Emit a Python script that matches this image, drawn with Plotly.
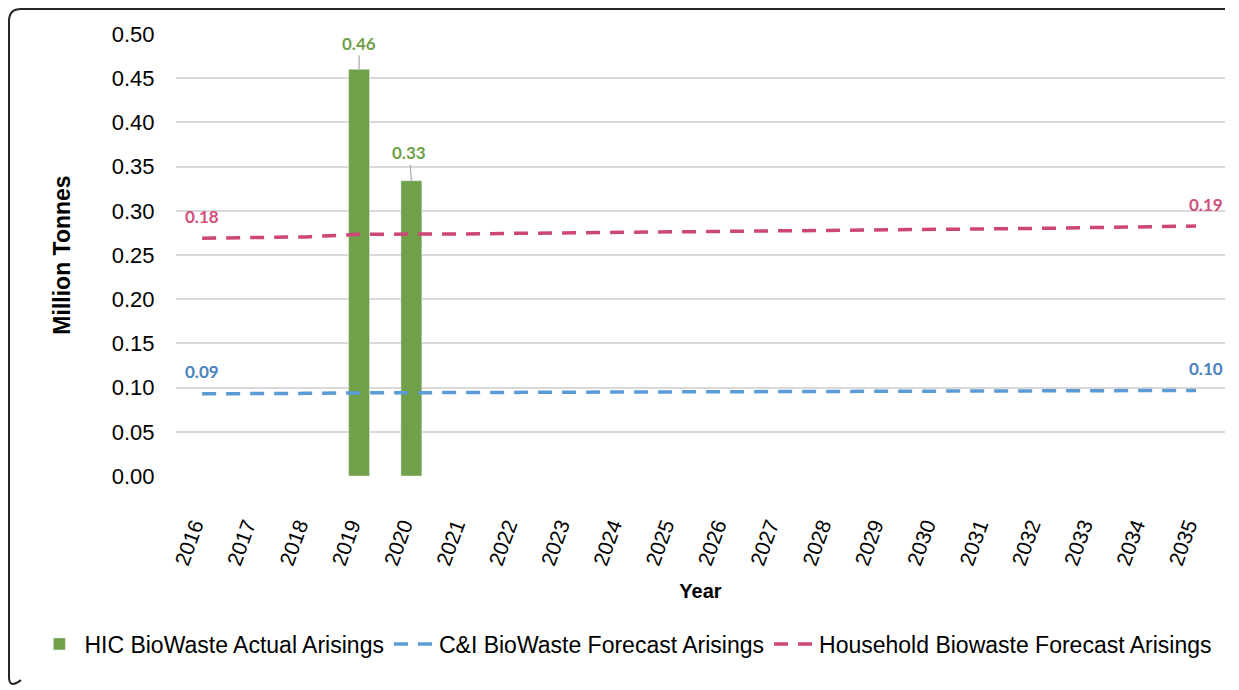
import plotly.graph_objects as go

years = [str(y) for y in range(2016, 2036)]

# HIC actual arisings (only 2019 and 2020 reported)
hic_actual = [None, None, None, 0.46, 0.334] + [None] * 15

# C&I biowaste forecast (million tonnes)
ci_forecast = [0.093, 0.093, 0.0935, 0.094, 0.094, 0.0943, 0.0945, 0.0948, 0.095, 0.0952,
               0.0955, 0.0957, 0.096, 0.0961, 0.0962, 0.0963, 0.0964, 0.0965, 0.0966, 0.0968]

# Household biowaste forecast (million tonnes), plotted stacked on top of C&I
household_forecast = [0.176, 0.1765, 0.177, 0.1795, 0.1795, 0.1795, 0.180, 0.1802, 0.1805, 0.181,
                      0.1812, 0.1815, 0.1818, 0.182, 0.1826, 0.183, 0.1837, 0.1845, 0.1852, 0.186]

household_stacked = [c + h for c, h in zip(ci_forecast, household_forecast)]

W, H = 1239, 690
OFF = 8  # page body margin
PW, PH = 1049, 442
L, T = 176 - OFF, 34 - OFF
R, B = W - L - PW, H - T - PH

FONT = "Liberation Sans"
GREEN = "#70A04A"
BLUE = "#5B9BD5"
PINK = "#CC4778"


def px(x, y):
    # screen pixel position -> paper coordinates
    return (x - OFF - L) / PW, (T + PH - (y - OFF)) / PH


fig = go.Figure()

fig.add_trace(go.Bar(
    x=years,
    y=hic_actual,
    name="HIC BioWaste Actual Arisings",
    marker=dict(color=GREEN),
    width=0.4,
))

fig.add_trace(go.Scatter(
    x=years,
    y=ci_forecast,
    name="C&I BioWaste Forecast Arisings",
    mode="lines",
    line=dict(color=BLUE, width=3.5, dash="14px,10px"),
))

fig.add_trace(go.Scatter(
    x=years,
    y=household_stacked,
    name="Household Biowaste Forecast Arisings",
    mode="lines",
    line=dict(color=PINK, width=3.5, dash="14px,10px"),
))

# annotations on a category axis are placed by category index
label_font = dict(family="Lato", size=17, color=GREEN)
annotations = []
for i, ax, ay in [(3, 0, -26), (4, -2, -28)]:
    annotations.append(dict(x=i, y=hic_actual[i], text="<b>%.2f</b>" % hic_actual[i], showarrow=True,
                            arrowhead=0, arrowwidth=1.2, arrowcolor="#A6A6A6", ax=ax, ay=ay,
                            font=label_font, xref="x", yref="y"))
last = len(years) - 1
for i, dx in [(0, 0), (last, 10)]:
    annotations.append(dict(x=i, y=ci_forecast[i], text="<b>%.2f</b>" % ci_forecast[i],
                            showarrow=False, xshift=dx, yshift=22,
                            font=dict(family="Lato", size=17, color="#4A84BE")))
    annotations.append(dict(x=i, y=household_stacked[i], text="<b>%.2f</b>" % household_forecast[i],
                            showarrow=False, xshift=dx, yshift=22,
                            font=dict(family="Lato", size=17, color="#D0507C")))

# rounded border around the chart area
x0, y0 = px(9, 9)
x1, _ = px(1225, 9)
_, yb = px(9, 689)
cx, cy = px(21, 21)
_, cyb = px(9, 677)
ex, _ = px(21, 689)
border = ("M %f,%f L %f,%f Q %f,%f %f,%f L %f,%f Q %f,%f %f,%f"
          % (x1, y0, cx, y0, x0, y0, x0, cy, x0, cyb, x0, yb, ex, yb + 0.02))

fig.update_layout(
    width=W,
    height=H,
    margin=dict(l=L, r=R, t=T, b=B, autoexpand=False),
    paper_bgcolor="white",
    plot_bgcolor="white",
    font=dict(family=FONT, size=22, color="black"),
    bargap=0.6,
    showlegend=True,
    legend=dict(orientation="h", x=-0.135, xanchor="left", y=-0.38, yanchor="middle",
                font=dict(family=FONT, size=23), itemwidth=40, tracegroupgap=0),
    xaxis=dict(
        type="category",
        automargin=False,
        tickangle=-70,
        showgrid=False,
        showline=False,
        ticks="outside",
        ticklen=28,
        tickcolor="rgba(0,0,0,0)",
        ticklabelshift=-8,
        tickfont=dict(family=FONT, size=21),
        title=dict(text="<b>Year</b>", font=dict(family=FONT, size=20), standoff=16),
    ),
    yaxis=dict(
        range=[0, 0.5],
        dtick=0.05,
        tickformat=".2f",
        automargin=False,
        showgrid=True,
        gridcolor="#D9D9D9",
        gridwidth=1.5,
        zeroline=False,
        showline=False,
        ticks="outside",
        ticklen=16,
        tickcolor="rgba(0,0,0,0)",
        tickfont=dict(family=FONT, size=22),
        title=dict(text="<b>Million Tonnes</b>", font=dict(family=FONT, size=23), standoff=34),
    ),
    annotations=annotations,
    shapes=[dict(type="path", path=border, xref="paper", yref="paper",
                 line=dict(color="#262626", width=2))],
)

fig.write_html("out.html")
